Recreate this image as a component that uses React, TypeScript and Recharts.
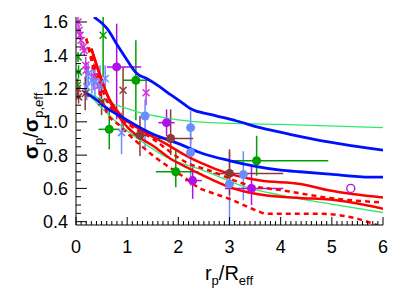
import React from 'react'
import { ComposedChart, Line, Scatter, XAxis, YAxis, ErrorBar } from 'recharts'

type P = { x: number; y: number }
type EP = { x: number; y: number; ex?: [number, number]; ey?: [number, number] }

// axis ticks
const xMajor = [0, 1, 2, 3, 4, 5, 6]
const yMajor = [0.4, 0.6, 0.8, 1.0, 1.2, 1.4, 1.6]
const xTicks = Array.from({ length: 61 }, (_, i) => i / 10)
const yTicks = Array.from({ length: 25 }, (_, i) => +(0.4 + i * 0.05).toFixed(2))

// model curves
const blueUpper: P[] = [
  { x: 0.35, y: 1.63 }, { x: 0.61, y: 1.56 }, { x: 0.81, y: 1.46 }, { x: 1.0, y: 1.37 },
  { x: 1.19, y: 1.29 }, { x: 1.38, y: 1.26 }, { x: 1.64, y: 1.21 }, { x: 1.84, y: 1.165 },
  { x: 2.03, y: 1.125 }, { x: 2.26, y: 1.075 }, { x: 2.62, y: 1.045 }, { x: 3.14, y: 1.005 },
  { x: 3.6, y: 0.965 }, { x: 4.18, y: 0.925 }, { x: 4.96, y: 0.878 }, { x: 5.75, y: 0.84 }, { x: 6, y: 0.83 },
]
const blueLower: P[] = [
  { x: 0.15, y: 1.18 }, { x: 0.34, y: 1.145 }, { x: 0.66, y: 1.07 }, { x: 0.86, y: 1.035 },
  { x: 1.51, y: 0.925 }, { x: 2.03, y: 0.866 }, { x: 2.42, y: 0.816 }, { x: 3.01, y: 0.766 },
  { x: 4.0, y: 0.71 }, { x: 4.38, y: 0.7 }, { x: 4.96, y: 0.686 }, { x: 5.75, y: 0.668 }, { x: 6, y: 0.668 },
]
const redUpper: P[] = [
  { x: 0.3, y: 1.44 }, { x: 0.45, y: 1.3 }, { x: 0.6, y: 1.17 }, { x: 0.86, y: 1.045 },
  { x: 1.25, y: 0.955 }, { x: 1.77, y: 0.866 }, { x: 2.16, y: 0.796 }, { x: 2.42, y: 0.756 },
  { x: 3.0, y: 0.687 }, { x: 3.6, y: 0.647 }, { x: 4.38, y: 0.627 }, { x: 4.96, y: 0.587 }, { x: 6, y: 0.545 },
]
const redLower: P[] = [
  { x: 0.3, y: 1.44 }, { x: 0.5, y: 1.25 }, { x: 0.7, y: 1.1 }, { x: 1.0, y: 0.97 },
  { x: 1.25, y: 0.905 }, { x: 1.51, y: 0.855 }, { x: 1.84, y: 0.78 }, { x: 2.16, y: 0.727 },
  { x: 2.42, y: 0.687 }, { x: 3.07, y: 0.6 }, { x: 3.73, y: 0.557 }, { x: 4.38, y: 0.542 },
  { x: 4.96, y: 0.533 }, { x: 6, y: 0.478 },
]
const redDashUpper: P[] = [
  { x: 0.2, y: 1.5 }, { x: 0.4, y: 1.3 }, { x: 0.6, y: 1.13 }, { x: 0.92, y: 1.015 },
  { x: 1.51, y: 0.895 }, { x: 2.16, y: 0.756 }, { x: 2.62, y: 0.706 }, { x: 3.4, y: 0.617 },
  { x: 4.0, y: 0.59 }, { x: 4.96, y: 0.542 }, { x: 6, y: 0.515 },
]
const redDashLower: P[] = [
  { x: 0.2, y: 1.5 }, { x: 0.4, y: 1.25 }, { x: 0.6, y: 1.06 }, { x: 0.86, y: 0.975 },
  { x: 1.51, y: 0.796 }, { x: 2.16, y: 0.657 }, { x: 2.42, y: 0.6 }, { x: 2.62, y: 0.577 },
  { x: 3.0, y: 0.537 }, { x: 3.53, y: 0.467 }, { x: 3.73, y: 0.447 }, { x: 4.38, y: 0.447 },
  { x: 4.83, y: 0.447 }, { x: 5.49, y: 0.418 }, { x: 5.88, y: 0.38 },
]
const greenUpper: P[] = [
  { x: 0.2, y: 1.18 }, { x: 0.6, y: 1.12 }, { x: 1.0, y: 1.08 }, { x: 1.25, y: 1.055 },
  { x: 1.64, y: 1.03 }, { x: 2.0, y: 1.012 }, { x: 2.62, y: 0.995 }, { x: 4.0, y: 0.985 }, { x: 6, y: 0.965 },
]
const greenLower: P[] = [
  { x: 0.2, y: 1.18 }, { x: 0.66, y: 1.035 }, { x: 1.31, y: 0.876 }, { x: 1.84, y: 0.776 },
  { x: 2.42, y: 0.716 }, { x: 3.4, y: 0.6 }, { x: 4.0, y: 0.56 }, { x: 4.38, y: 0.537 },
  { x: 4.96, y: 0.507 }, { x: 6, y: 0.455 },
]

// observed points (circles)
const greenPts: EP[] = [
  { x: 0.65, y: 0.955, ex: [0.21, 0.2], ey: [0.12, 0.12] },
  { x: 1.17, y: 1.25, ex: [0.25, 0.28], ey: [0.24, 0.24] },
  { x: 1.95, y: 0.7, ex: [0.39, 0.44], ey: [0.093, 0.135] },
  { x: 3.53, y: 0.766, ex: [0.53, 1.4], ey: [0.09, 0.15] },
]
const purplePts: EP[] = [
  { x: 0.795, y: 1.33, ex: [0.19, 0.48], ey: [0.315, 0.26] },
  { x: 1.77, y: 0.995, ex: [0.16, 0.16], ey: [0.08, 0.08] },
  { x: 2.28, y: 0.647, ex: [0.15, 0.18], ey: [0.11, 0.08] },
  { x: 3.43, y: 0.6, ex: [0.52, 0.62], ey: [0.1, 0.13] },
]
const purpleOpen: P[] = [{ x: 5.37, y: 0.6 }]
const brownPts: EP[] = [
  { x: 1.25, y: 0.92, ex: [0.23, 0.26], ey: [0.125, 0.115] },
  { x: 1.85, y: 0.9, ex: [0.34, 0.44], ey: [0.1, 0.175] },
  { x: 3.0, y: 0.69, ex: [0.32, 1.05], ey: [0.13, 0.145] },
]
const bluePts: EP[] = [
  { x: 1.35, y: 1.035, ey: [0.2, 0.1] },
  { x: 2.24, y: 0.965, ey: [0.1, 0.1] },
  { x: 2.24, y: 0.816, ey: [0.2, 0.12] },
  { x: 3.0, y: 0.627, ey: [0.25, 0.19] },
  { x: 3.27, y: 0.683, ey: [0.155, 0.14] },
]

// observed points (crosses)
const magentaX: EP[] = [
  { x: 0.04, y: 1.6, ey: [0.03, 0.03] }, { x: 0.06, y: 1.55, ey: [0.03, 0.03] },
  { x: 0.08, y: 1.52, ey: [0.02, 0.02] }, { x: 0.1, y: 1.49, ey: [0.03, 0.03] },
  { x: 0.14, y: 1.45, ey: [0.03, 0.03] }, { x: 0.16, y: 1.43, ey: [0.03, 0.03] },
  { x: 0.19, y: 1.34, ey: [0.05, 0.05] }, { x: 0.2, y: 1.31, ey: [0.05, 0.05] },
  { x: 0.35, y: 1.27, ey: [0.08, 0.08] }, { x: 0.45, y: 1.22, ey: [0.06, 0.06] },
]
const purpleX: EP[] = [{ x: 1.37, y: 1.175, ey: [0.075, 0.085] }]
const brownX: EP[] = [
  { x: 0.92, y: 1.19, ey: [0.24, 0.14] }, { x: 0.03, y: 1.2, ey: [0.05, 0.05] },
  { x: 0.05, y: 1.15, ey: [0.04, 0.04] }, { x: 0.18, y: 1.17, ey: [0.1, 0.1] },
  { x: 0.5, y: 1.12, ey: [0.08, 0.08] },
]
const blueX: EP[] = [
  { x: 0.21, y: 1.21, ey: [0.08, 0.08] }, { x: 0.24, y: 1.29, ey: [0.06, 0.06] },
  { x: 0.31, y: 1.25, ey: [0.08, 0.08] }, { x: 0.37, y: 1.24, ey: [0.1, 0.1] },
  { x: 0.47, y: 1.22, ey: [0.12, 0.12] }, { x: 0.57, y: 1.26, ey: [0.08, 0.08] },
  { x: 0.89, y: 0.935, ey: [0.13, 0.12] },
]
const greenX: EP[] = [
  { x: 0.53, y: 1.52, ey: [0.25, 0.11] }, { x: 0.04, y: 1.39, ey: [0.03, 0.03] },
  { x: 0.05, y: 1.3, ey: [0.04, 0.04] }, { x: 0.03, y: 1.22, ey: [0.04, 0.04] },
]

const FONT = '"Liberation Sans", Arial, Helvetica, sans-serif'
const near = (arr: number[], v: number) => arr.some(m => Math.abs(m - v) < 1e-6)

function BottomTick({ x, y, payload }: any) {
  const major = near(xMajor, payload.value)
  return (
    <g>
      <line x1={x} x2={x} y1={y} y2={y - (major ? 8 : 4)} stroke="#000" />
      {major && (
        <text x={x} y={y + 28} textAnchor="middle" fontSize={18} fontFamily={FONT} fill="#000">
          {Math.round(payload.value)}
        </text>
      )}
    </g>
  )
}

function TopTick({ x, y, payload }: any) {
  const major = near(xMajor, payload.value)
  return <line x1={x} x2={x} y1={y} y2={y + (major ? 8 : 4)} stroke="#000" />
}

function LeftTick({ x, y, payload }: any) {
  const major = near(yMajor, payload.value)
  return (
    <g>
      <line x1={x} x2={x + (major ? 11 : 5)} y1={y} y2={y} stroke="#000" />
      {major && (
        <text x={x - 8} y={y + 6.5} textAnchor="end" fontSize={18} fontFamily={FONT} fill="#000">
          {payload.value.toFixed(1)}
        </text>
      )}
    </g>
  )
}

function RightTick({ x, y, payload }: any) {
  const major = near(yMajor, payload.value)
  return <line x1={x} x2={x - (major ? 11 : 5)} y1={y} y2={y} stroke="#000" />
}

const YLabel = () => (
  <text transform="translate(38,126) rotate(-90)" textAnchor="middle" fontFamily={FONT} fill="#000">
    <tspan fontSize={21} fontWeight="bold">σ</tspan>
    <tspan fontSize={13} dy={5}>p</tspan>
    <tspan fontSize={20} dy={-5}>/</tspan>
    <tspan fontSize={21} fontWeight="bold">σ</tspan>
    <tspan fontSize={13} dy={5}>p,eff</tspan>
  </text>
)

const XLabel = () => (
  <text x={229} y={280} textAnchor="middle" fontFamily={FONT} fill="#000">
    <tspan fontSize={20}>r</tspan>
    <tspan fontSize={13} dy={5}>p</tspan>
    <tspan fontSize={20} dy={-5}>/R</tspan>
    <tspan fontSize={13} dy={5}>eff</tspan>
  </text>
)

const dot = (color: string) => (p: any) => <circle cx={p.cx} cy={p.cy} r={4.5} fill={color} />
const ring = (color: string) => (p: any) => <circle cx={p.cx} cy={p.cy} r={4} fill="none" stroke={color} strokeWidth={1.3} />
const cross = (color: string) => (p: any) => (
  <g stroke={color} strokeWidth={1.5}>
    <line x1={p.cx - 3.5} y1={p.cy - 3.5} x2={p.cx + 3.5} y2={p.cy + 3.5} />
    <line x1={p.cx - 3.5} y1={p.cy + 3.5} x2={p.cx + 3.5} y2={p.cy - 3.5} />
  </g>
)

const C = {
  green: '#00a000',
  purple: '#b010e8',
  magenta: '#d030d8',
  brown: '#8e3838',
  lightBlue: '#6a8cff',
  blue: '#0010ff',
  red: '#ff0000',
  lightGreen: '#30e870',
}

function pointSeries(data: EP[], color: string, shape: any, withX: boolean) {
  return (
    <Scatter data={data} dataKey="y" shape={shape} isAnimationActive={false}>
      {withX && <ErrorBar dataKey="ex" direction="x" width={0} stroke={color} strokeWidth={1.5} />}
      <ErrorBar dataKey="ey" direction="y" width={0} stroke={color} strokeWidth={1.5} />
    </Scatter>
  )
}

export default function App() {
  return (
    <div style={{ width: 393, height: 296, background: '#fff' }}>
      <style>{'body{margin:0}'}</style>
      <ComposedChart width={393} height={296} margin={{ top: 17, right: 10, bottom: 0, left: 0 }}>
        <XAxis
          dataKey="x" type="number" domain={[0, 6]} allowDataOverflow ticks={xTicks} interval={0}
          height={71} tickSize={0} tickMargin={0} tickLine={false} stroke="#000" tick={<BottomTick />}
          label={() => <XLabel />}
        />
        <XAxis
          xAxisId="top" orientation="top" dataKey="x" type="number" domain={[0, 6]} allowDataOverflow
          ticks={xTicks} interval={0} height={0} tickSize={0} tickMargin={0} tickLine={false} stroke="#000"
          tick={<TopTick />}
        />
        <YAxis
          type="number" domain={[0.38, 1.63]} allowDataOverflow ticks={yTicks} interval={0} width={76}
          tickSize={0} tickMargin={0} tickLine={false} stroke="#000" tick={<LeftTick />}
          label={() => <YLabel />}
        />
        <YAxis
          yAxisId="right" orientation="right" type="number" domain={[0.38, 1.63]} allowDataOverflow
          ticks={yTicks} interval={0} width={0} tickSize={0} tickMargin={0} tickLine={false} stroke="#000"
          tick={<RightTick />}
        />

        {pointSeries(magentaX, C.magenta, cross(C.magenta), false)}
        {pointSeries(greenX, C.green, cross(C.green), false)}
        {pointSeries(brownX, C.brown, cross(C.brown), false)}
        {pointSeries(blueX, C.lightBlue, cross(C.lightBlue), false)}
        {pointSeries(purpleX, C.magenta, cross(C.magenta), false)}
        {pointSeries(bluePts, C.lightBlue, dot(C.lightBlue), false)}
        {pointSeries(brownPts, C.brown, dot(C.brown), true)}
        {pointSeries(greenPts, C.green, dot(C.green), true)}
        {pointSeries(purplePts, C.purple, dot(C.purple), true)}
        <Scatter data={purpleOpen} dataKey="y" shape={ring(C.purple)} isAnimationActive={false} />

        <Line data={greenUpper} dataKey="y" type="monotone" stroke={C.lightGreen} strokeWidth={1.3} dot={false} isAnimationActive={false} />
        <Line data={greenLower} dataKey="y" type="monotone" stroke={C.lightGreen} strokeWidth={1.3} dot={false} isAnimationActive={false} />
        <Line data={redDashUpper} dataKey="y" type="monotone" stroke={C.red} strokeWidth={2.5} strokeDasharray="5 4" dot={false} isAnimationActive={false} />
        <Line data={redDashLower} dataKey="y" type="monotone" stroke={C.red} strokeWidth={2.5} strokeDasharray="5 4" dot={false} isAnimationActive={false} />
        <Line data={redUpper} dataKey="y" type="monotone" stroke={C.red} strokeWidth={2.5} dot={false} isAnimationActive={false} />
        <Line data={redLower} dataKey="y" type="monotone" stroke={C.red} strokeWidth={2.5} dot={false} isAnimationActive={false} />
        <Line data={blueUpper} dataKey="y" type="monotone" stroke={C.blue} strokeWidth={2.8} dot={false} isAnimationActive={false} />
        <Line data={blueLower} dataKey="y" type="monotone" stroke={C.blue} strokeWidth={2.8} dot={false} isAnimationActive={false} />
      </ComposedChart>
    </div>
  )
}
